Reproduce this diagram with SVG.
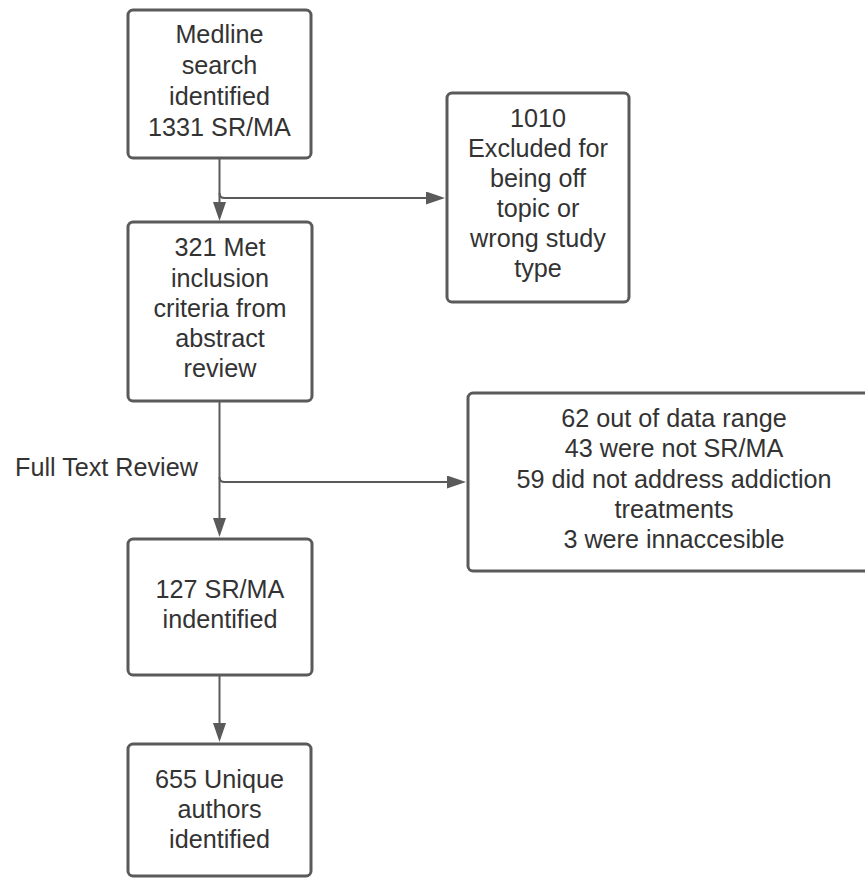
<svg xmlns="http://www.w3.org/2000/svg" width="865" height="878" viewBox="0 0 865 878">
<style>
.box{fill:#fff;stroke:#5a5a5a;stroke-width:3}
.t{font-family:"Liberation Sans",Arial,sans-serif;font-size:25.2px;fill:#333;text-anchor:middle}
.tl{font-family:"Liberation Sans",Arial,sans-serif;font-size:25.2px;fill:#333}
.c{fill:none;stroke:#5a5a5a;stroke-width:2}
</style>
<defs>
<marker id="ah" viewBox="0 0 19 13" refX="15" refY="6.5" markerWidth="19" markerHeight="13" markerUnits="userSpaceOnUse" orient="auto">
<path d="M0,0 L19,6.5 L0,13 z" fill="#5a5a5a"/>
</marker>
</defs>
<rect width="865" height="878" fill="#fff"/>
<g id="connectors">
<path class="c" d="M219.5 158 V217" marker-end="url(#ah)"/>
<path class="c" d="M219.5 193 Q219.5 198 224.5 198 H441" marker-end="url(#ah)"/>
<path class="c" d="M219.5 401 V533" marker-end="url(#ah)"/>
<path class="c" d="M219.5 477 Q219.5 482 224.5 482 H462" marker-end="url(#ah)"/>
<path class="c" d="M219.5 675 V738" marker-end="url(#ah)"/>
</g>
<g id="label-fulltext">
<text class="tl" x="15" y="476">Full Text Review</text>
</g>
<g id="n1">
<rect class="box" x="128" y="10" width="183" height="148" rx="5"/>
<text class="t" x="219.5" y="43">Medline</text>
<text class="t" x="219.5" y="74">search</text>
<text class="t" x="219.5" y="105">identified</text>
<text class="t" x="219.5" y="136">1331 SR/MA</text>
</g>
<g id="n2">
<rect class="box" x="128" y="222" width="184" height="179" rx="5"/>
<text class="t" x="220" y="256">321 Met</text>
<text class="t" x="220" y="286.5">inclusion</text>
<text class="t" x="220" y="317">criteria from</text>
<text class="t" x="220" y="347">abstract</text>
<text class="t" x="220" y="377">review</text>
</g>
<g id="n3">
<rect class="box" x="447" y="93" width="182" height="209" rx="5"/>
<text class="t" x="538" y="127">1010</text>
<text class="t" x="538" y="157">Excluded for</text>
<text class="t" x="538" y="187">being off</text>
<text class="t" x="538" y="217">topic or</text>
<text class="t" x="538" y="247">wrong study</text>
<text class="t" x="538" y="277">type</text>
</g>
<g id="n4">
<rect class="box" x="468" y="393" width="412" height="178" rx="5"/>
<text class="t" x="674" y="427">62 out of data range</text>
<text class="t" x="674" y="457">43 were not SR/MA</text>
<text class="t" x="674" y="487.5">59 did not address addiction</text>
<text class="t" x="674" y="518">treatments</text>
<text class="t" x="674" y="548">3 were innaccesible</text>
</g>
<g id="n5">
<rect class="box" x="128" y="539" width="184" height="136" rx="5"/>
<text class="t" x="220" y="598">127 SR/MA</text>
<text class="t" x="220" y="628">indentified</text>
</g>
<g id="n6">
<rect class="box" x="128" y="744" width="183" height="132" rx="5"/>
<text class="t" x="219.5" y="788">655 Unique</text>
<text class="t" x="219.5" y="818">authors</text>
<text class="t" x="219.5" y="848">identified</text>
</g>
</svg>
